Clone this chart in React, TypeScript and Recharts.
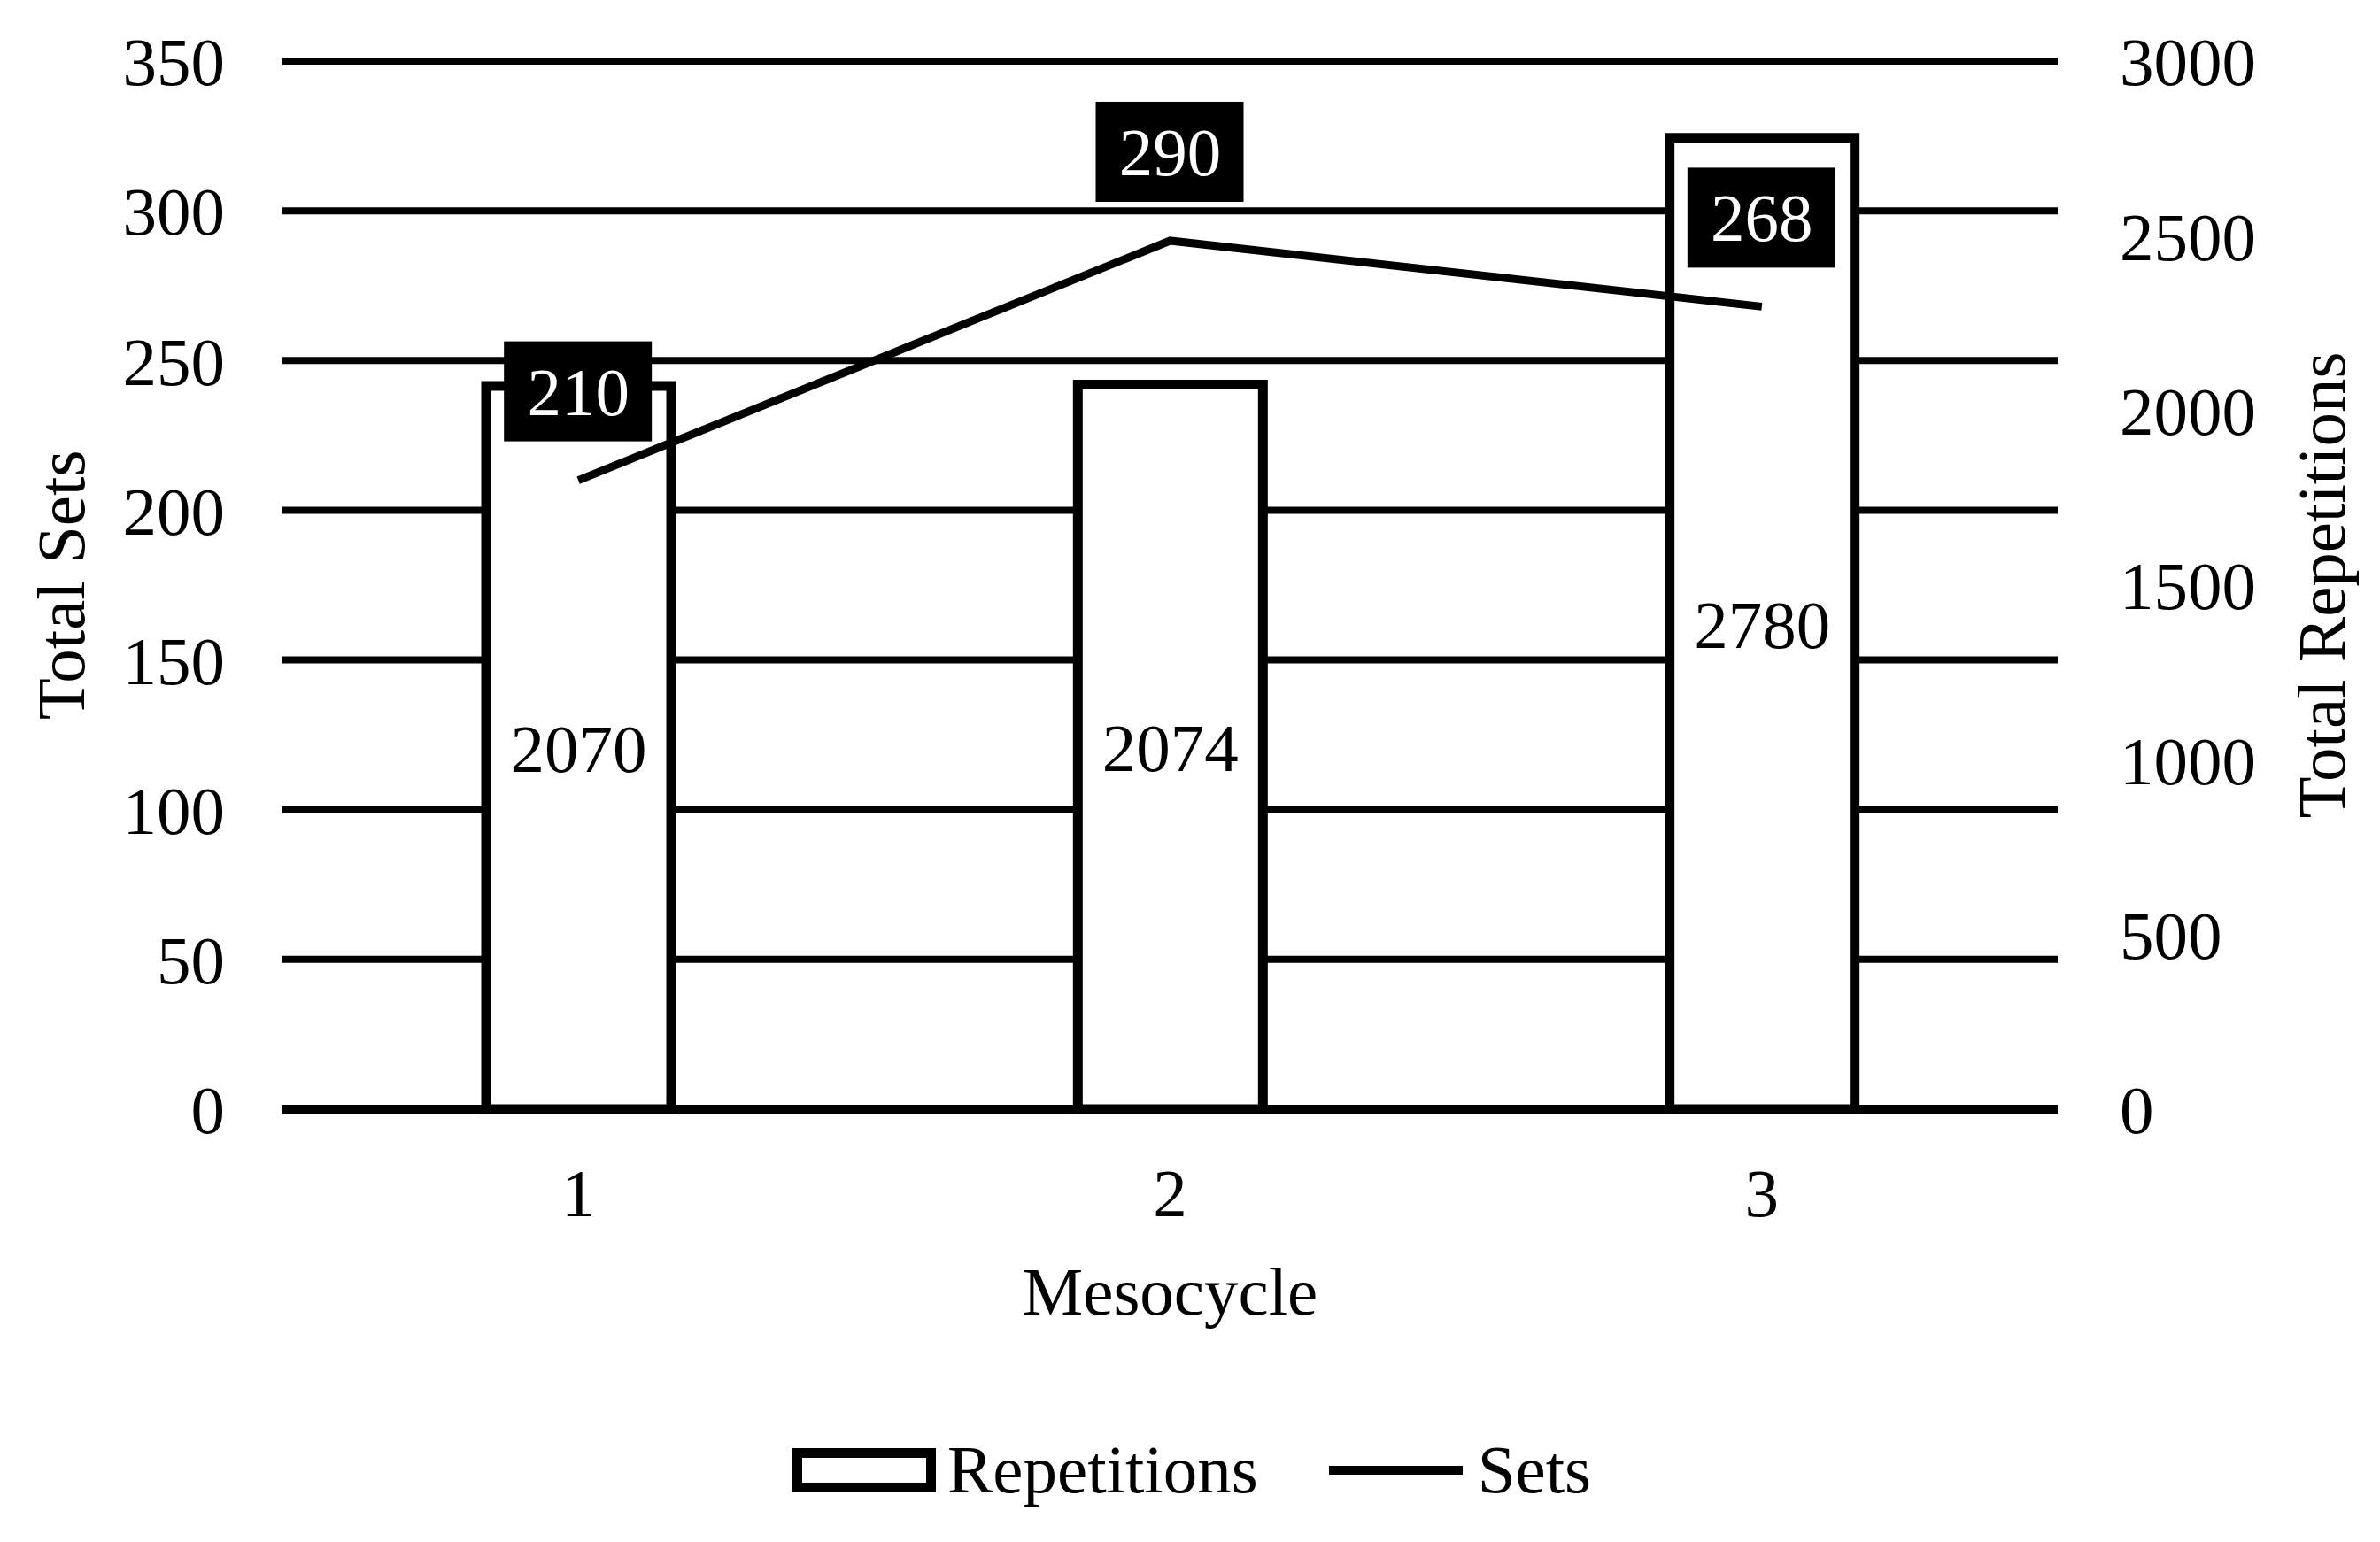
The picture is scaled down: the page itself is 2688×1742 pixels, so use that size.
import {
  Bar, CartesianGrid, ComposedChart, Label, LabelList, Legend,
  Line, XAxis, YAxis,
} from 'recharts'

const mesocycles = ['1', '2', '3']
const repetitions = [2070, 2074, 2780]
const sets = [210, 290, 268]
const setTicks = [0, 50, 100, 150, 200, 250, 300, 350]
const repTicks = [0, 500, 1000, 1500, 2000, 2500, 3000]

const FONT = '"Liberation Serif", "Times New Roman", serif'
const FS = 77

const data = mesocycles.map((m, i) => ({
  mesocycle: m,
  repetitions: repetitions[i],
  sets: sets[i],
}))

const tickStyle = { fill: '#000', fontSize: FS, fontFamily: FONT }

// black box with white number, sitting above each point of the Sets line
function SetsLabel(props: any) {
  const { x, y, value } = props
  const cy = y - 100
  return (
    <g>
      <rect x={x - 84} y={cy - 57} width={167} height={113} fill="#000" />
      <text
        x={x} y={cy} fill="#fff" fontSize={FS} fontFamily={FONT}
        textAnchor="middle" dominantBaseline="central"
      >
        {value}
      </text>
    </g>
  )
}

function LegendContent() {
  return (
    <div style={{
      display: 'flex', justifyContent: 'center', alignItems: 'center',
      fontFamily: FONT, fontSize: FS, color: '#000', paddingLeft: 4,
    }}>
      <svg width={162} height={50}>
        <rect x={5.5} y={5.5} width={151} height={39} fill="#fff" stroke="#000" strokeWidth={11} />
      </svg>
      <span style={{ marginLeft: 13 }}>Repetitions</span>
      <svg width={151} height={42} style={{ marginLeft: 80 }}>
        <line x1={0} y1={21} x2={151} y2={21} stroke="#000" strokeWidth={10} />
      </svg>
      <span style={{ marginLeft: 17 }}>Sets</span>
    </div>
  )
}

export default function App() {
  return (
    <ComposedChart
      width={2672} height={1726} data={data}
      margin={{ top: 61, right: 0, left: 0, bottom: 0 }}
    >
      <CartesianGrid yAxisId="left" vertical={false} stroke="#000" strokeWidth={8} />
      <XAxis
        dataKey="mesocycle" height={481}
        axisLine={{ stroke: '#000', strokeWidth: 10 }} tickLine={false}
        tickSize={0} tickMargin={66} tick={tickStyle}
      >
        <Label
          content={({ viewBox }: any) => (
            <text
              x={viewBox.x + viewBox.width / 2} y={viewBox.y + 206}
              fontSize={FS} fontFamily={FONT} fill="#000"
              textAnchor="middle" dominantBaseline="central"
            >
              Mesocycle
            </text>
          )}
        />
      </XAxis>
      <YAxis
        yAxisId="left" width={311} domain={[0, 350]} ticks={setTicks}
        axisLine={false} tickLine={false} tickSize={0} tickMargin={65}
        tick={tickStyle} interval={0}
      >
        <Label
          content={({ viewBox }: any) => {
            const cx = viewBox.x + 61
            const cy = viewBox.y + viewBox.height / 2
            return (
              <text
                x={cx} y={cy} transform={`rotate(-90 ${cx} ${cy})`}
                fontSize={FS} fontFamily={FONT} fill="#000"
                textAnchor="middle" dominantBaseline="central"
              >
                Total Sets
              </text>
            )
          }}
        />
      </YAxis>
      <YAxis
        yAxisId="right" orientation="right" width={356} domain={[0, 3000]} ticks={repTicks}
        axisLine={false} tickLine={false} tickSize={0} tickMargin={70}
        tick={tickStyle} interval={0}
      >
        <Label
          content={({ viewBox }: any) => {
            const cx = viewBox.x + 298
            const cy = viewBox.y + viewBox.height / 2
            return (
              <text
                x={cx} y={cy} transform={`rotate(-90 ${cx} ${cy})`}
                fontSize={FS} fontFamily={FONT} fill="#000"
                textAnchor="middle" dominantBaseline="central"
              >
                Total Repetitions
              </text>
            )
          }}
        />
      </YAxis>
      <Legend
        layout="horizontal" verticalAlign="middle" align="center"
        content={<LegendContent />}
        wrapperStyle={{ top: 1608, left: 0, width: 2672 }}
      />
      <Bar
        yAxisId="right" dataKey="repetitions" name="Repetitions"
        barSize={209} fill="#fff" stroke="#000" strokeWidth={11}
        isAnimationActive={false}
      >
        <LabelList
          dataKey="repetitions" position="center"
          fill="#000" fontSize={FS} fontFamily={FONT}
        />
      </Bar>
      <Line
        yAxisId="left" dataKey="sets" name="Sets" type="linear"
        stroke="#000" strokeWidth={9} dot={false} activeDot={false}
        isAnimationActive={false}
      >
        <LabelList dataKey="sets" content={<SetsLabel />} />
      </Line>
    </ComposedChart>
  )
}
